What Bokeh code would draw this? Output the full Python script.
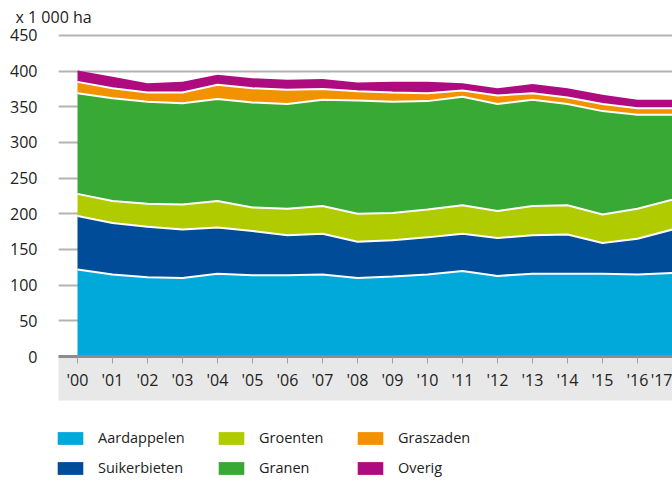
import numpy as np
from bokeh.plotting import figure
from bokeh.layouts import column
from bokeh.models import Legend, LegendItem, FixedTicker, Range1d
from bokeh.embed import file_html
from bokeh.resources import INLINE

years = list(range(2000, 2018))
year_labels = ["'00", "'01", "'02", "'03", "'04", "'05", "'06", "'07", "'08",
               "'09", "'10", "'11", "'12", "'13", "'14", "'15", "'16", "'17"]
y_ticks = [0, 50, 100, 150, 200, 250, 300, 350, 400, 450]

aardappelen = [122, 115, 111, 110, 116, 114, 114, 115, 110, 112, 115, 120, 113, 116, 116, 116, 115, 117]
suikerbieten = [75, 72, 71, 68, 65, 62, 56, 57, 51, 51, 52, 52, 53, 54, 55, 43, 50, 61]
groenten = [31, 31, 32, 35, 37, 33, 37, 39, 39, 38, 39, 40, 38, 41, 41, 40, 42, 42]
granen = [141, 144, 143, 142, 143, 147, 147, 149, 159, 156, 152, 152, 150, 149, 142, 145, 132, 119]
graszaden = [16, 14, 13, 15, 20, 20, 20, 15, 13, 13, 11, 9, 12, 9, 9, 10, 9, 9]
overig = [16, 16, 13, 15, 14, 14, 14, 14, 12, 15, 16, 10, 10, 13, 13, 13, 12, 12]

names = ["Aardappelen", "Suikerbieten", "Groenten", "Granen", "Graszaden", "Overig"]
series = [aardappelen, suikerbieten, groenten, granen, graszaden, overig]
colors = ["#00a9da", "#004c99", "#b0cb00", "#38a935", "#f39200", "#af0b80"]

FONT = "Open Sans"
TXT = "#222222"

cum = np.cumsum(np.array(series, dtype=float), axis=0)
bottoms = np.vstack([np.zeros(len(years)), cum[:-1]])

# ---------------- main chart ----------------
p = figure(width=672, height=410, output_backend="svg", toolbar_location=None,
           x_range=Range1d(1999.457, 2017.0), y_range=Range1d(0, 459.8),
           min_border_left=58, min_border_right=0, min_border_top=28, min_border_bottom=54)
p.outline_line_color = None

p.title.text = "x 1 000 ha"
p.title.align = "left"
p.title.offset = -43
p.title.text_font = FONT
p.title.text_font_size = "16px"
p.title.text_font_style = "normal"
p.title.text_color = TXT
p.title.standoff = 2

for i, name in enumerate(names):
    p.varea(x=years, y1=bottoms[i], y2=cum[i], fill_color=colors[i])
for i in range(len(names) - 1):
    p.line(x=years, y=cum[i], line_color="white", line_width=2)

# y axis
p.yaxis.ticker = FixedTicker(ticks=y_ticks)
p.yaxis.axis_line_color = None
p.yaxis.major_tick_line_color = None
p.yaxis.minor_tick_line_color = None
p.yaxis.major_label_standoff = 15
p.yaxis.major_label_text_font = FONT
p.yaxis.major_label_text_font_size = "16px"
p.yaxis.major_label_text_color = TXT
p.ygrid.ticker = FixedTicker(ticks=y_ticks)
p.ygrid.grid_line_color = "#b3b3b3"
p.ygrid.grid_line_width = 2
p.xgrid.grid_line_color = None

# x axis
p.xaxis.ticker = FixedTicker(ticks=years)
p.xaxis.major_label_overrides = {y: l for y, l in zip(years, year_labels)}
p.xaxis.axis_line_color = "#8c8c8c"
p.xaxis.axis_line_width = 3
p.xaxis.major_tick_in = 0
p.xaxis.major_tick_out = 7
p.xaxis.major_tick_line_color = "#a0a0a0"
p.xaxis.minor_tick_line_color = None
p.xaxis.major_label_standoff = 5
p.xaxis.major_label_text_font = FONT
p.xaxis.major_label_text_font_size = "16px"
p.xaxis.major_label_text_color = TXT
p.xaxis.axis_label = " "
p.xaxis.axis_label_text_font_size = "3px"
p.xaxis.axis_label_standoff = 1
p.xaxis.background_fill_color = "#e8e8e8"

# ---------------- legend strip ----------------
lg = figure(width=672, height=70, output_backend="svg", toolbar_location=None,
            x_range=Range1d(0, 1), y_range=Range1d(0, 1),
            min_border_left=0, min_border_right=0, min_border_top=0, min_border_bottom=0)
lg.frame_align = False
lg.axis.visible = False
lg.grid.visible = False
lg.outline_line_color = None
swatches = []
for i, name in enumerate(names):
    # same series, drawn outside the visible range: only used as legend swatches
    swatches.append(lg.varea(x=years, y1=bottoms[i], y2=cum[i], fill_color=colors[i]))

col_offsets = [54, 215, 354]
for c in range(3):
    items = [LegendItem(label=names[2 * c + k], renderers=[swatches[2 * c + k]]) for k in range(2)]
    legend = Legend(items=items, orientation="vertical", location=(col_offsets[c], 3),
                    glyph_width=32, glyph_height=16, label_standoff=12,
                    label_text_font=FONT, label_text_font_size="14.5px", label_text_color=TXT,
                    label_height=18, spacing=11, padding=0, margin=0,
                    border_line_color=None, background_fill_alpha=0)
    lg.add_layout(legend, "center")

layout = column(p, lg, spacing=0)
open("out.html", "w").write(file_html(layout, INLINE))
